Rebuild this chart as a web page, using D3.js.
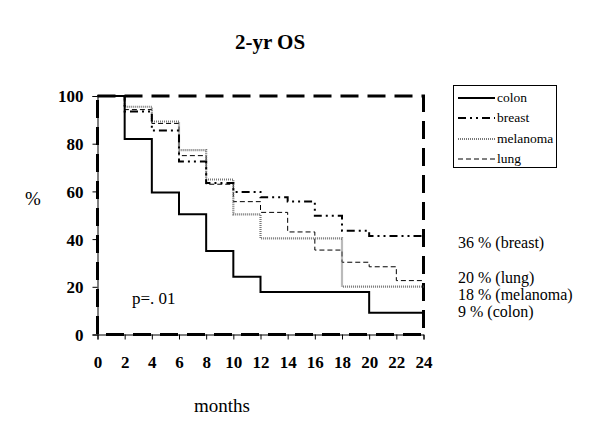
<!DOCTYPE html>
<html><head><meta charset="utf-8">
<script src="https://cdn.jsdelivr.net/npm/d3@7"></script>
<style>body{margin:0;background:#fff}svg{display:block}</style>
</head><body><div id="c"></div>
<script>
const months = [0,2,4,6,8,10,12,14,16,18,20,22,24];
const yTicks = [0,20,40,60,80,100];
const colon = [[0,100],[2,82],[4,59.5],[6,50.4],[8,35],[10,24.2],[12,17.8],[20,9.1],[24,9.1]];
const breast = [[0,100],[2,93.5],[4,85.5],[6,72.5],[8,63.5],[10,59.8],[12,57.5],[14,55.8],[16,49.8],[18,43.5],[20,41.3],[24,41.3]];
const melanoma = [[0,100],[2,95.5],[4,89.3],[6,77.3],[8,65],[10,50.4],[12,40.3],[18,20.1],[24,20.1]];
const lung = [[0,100],[2,94.3],[4,88.5],[6,75],[8,63],[10,55.7],[12,51.2],[14,43],[16,35.4],[18,30.3],[20,28.4],[22,22.6],[24,22.6]];
const seriesNames = ["colon","breast","melanoma","lung"];
const endLabels = ["36 % (breast)","20 % (lung)","18 % (melanoma)","9 % (colon)"];
const pLabel = "p=. 01";

const FONT = "'Liberation Serif'";
const W=600,H=434;
const svg=d3.select("#c").append("svg").attr("width",W).attr("height",H);
svg.append("rect").attr("width",W).attr("height",H).attr("fill","#fff");
const x=d3.scaleLinear().domain([0,24]).range([97.5,423.5]);
const y=d3.scaleLinear().domain([0,100]).range([334.5,96]);

const styles={
  colon:{stroke:"#000",w:2,dash:null},
  breast:{stroke:"#000",w:2,dash:"8,4,2,4,2,4"},
  melanoma:{stroke:"#777",w:2.2,dash:"1,1"},
  lung:{stroke:"#000",w:1,dash:"5,3"}
};
const data={colon,breast,melanoma,lung};
function txt(sel){return sel.style("font-family",FONT);}

// title
txt(svg.append("text")).attr("x",270).attr("y",49).attr("text-anchor","middle")
  .attr("font-weight","bold").attr("font-size",21).text("2-yr OS");

// axes
const xa=svg.append("g").attr("transform",`translate(0,${y(0)})`)
  .call(d3.axisBottom(x).tickValues(months).tickSize(5).tickFormat(d3.format("d")));
xa.attr("font-family",null);
xa.select(".domain").attr("stroke","#000");
txt(xa.selectAll("text")).attr("font-size",17).attr("font-weight","bold").attr("y",17).attr("dy","0.95em");
const ya=svg.append("g").attr("transform",`translate(${x(0)},0)`)
  .call(d3.axisLeft(y).tickValues(yTicks).tickSize(5).tickFormat(d3.format("d")));
ya.attr("font-family",null);
ya.select(".domain").attr("stroke","#000");
txt(ya.selectAll("text")).attr("font-size",17).attr("font-weight","bold").attr("dy","0.35em").attr("x",-14);

// plot frame dashed
svg.append("rect").attr("x",x(0)).attr("y",y(100)).attr("width",x(24)-x(0)).attr("height",y(0)-y(100))
  .attr("fill","none").attr("stroke","#000").attr("stroke-width",3).attr("stroke-dasharray","18,9");

// lines
const line=d3.line().x(d=>x(d[0])).y(d=>y(d[1])).curve(d3.curveStepAfter);
["lung","melanoma","breast","colon"].forEach(k=>{
  svg.append("path").datum(data[k]).attr("d",line).attr("fill","none")
    .attr("stroke",styles[k].stroke).attr("stroke-width",styles[k].w)
    .attr("stroke-dasharray",styles[k].dash);
});

// labels
txt(svg.append("text")).attr("x",33).attr("y",205).attr("text-anchor","middle").attr("font-size",19).text("%");
txt(svg.append("text")).attr("x",222).attr("y",412).attr("text-anchor","middle").attr("font-size",19).text("months");
txt(svg.append("text")).attr("x",132).attr("y",304).attr("font-size",17).text(pLabel);

// legend
svg.append("rect").attr("x",453.5).attr("y",85.5).attr("width",103).attr("height",82)
  .attr("fill","#fff").attr("stroke","#000").attr("stroke-width",1);
const ly=[98,118,139,159];
seriesNames.forEach((k,i)=>{
  svg.append("line").attr("x1",458).attr("x2",495).attr("y1",ly[i]).attr("y2",ly[i])
    .attr("stroke",styles[k].stroke).attr("stroke-width",styles[k].w).attr("stroke-dasharray",styles[k].dash);
  txt(svg.append("text")).attr("x",497).attr("y",ly[i]+4).attr("font-size",13.5).text(k);
});

// end labels
const ey=[248,283,300,317];
endLabels.forEach((t,i)=>{
  txt(svg.append("text")).attr("x",458).attr("y",ey[i]).attr("font-size",16).text(t);
});
</script></body></html>
